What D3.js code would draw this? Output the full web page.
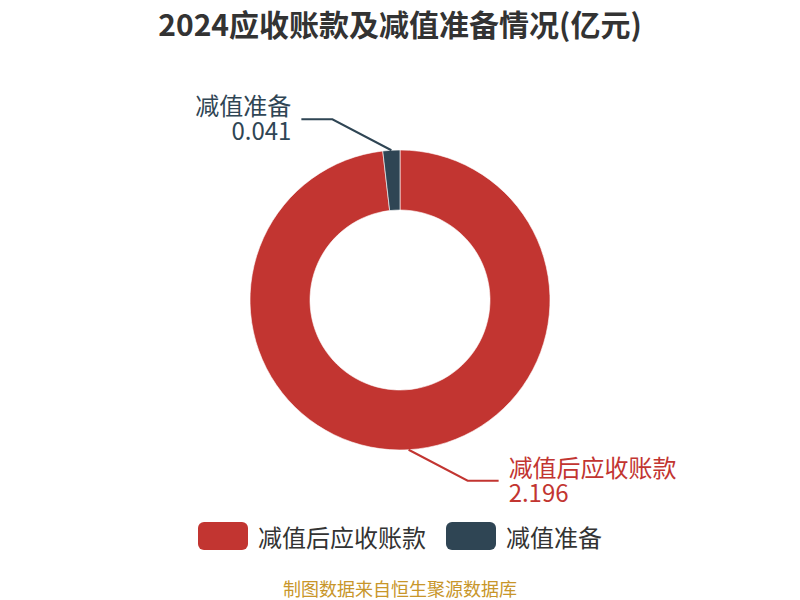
<!DOCTYPE html>
<html><head><meta charset="utf-8">
<script src="https://cdn.jsdelivr.net/npm/d3@7"></script>
<style>html,body{margin:0;padding:0;background:#fff;}svg{display:block;font-family:"Noto Sans CJK SC","Noto Sans",sans-serif;}</style>
</head><body>
<svg id="chart" width="800" height="600"></svg>
<script>
const titleText = "2024应收账款及减值准备情况(亿元)";
const categories = ["减值后应收账款", "减值准备"];
const values = [2.196, 0.041];
const valueLabels = ["2.196", "0.041"];
const colors = ["#c23531", "#2f4554"];
const sourceText = "制图数据来自恒生聚源数据库";

const W = 800, H = 600, cx = 400, cy = 300, rOuter = 150, rInner = 90;
const svg = d3.select("#chart");

svg.append("text").attr("x", W/2).attr("y", 23).attr("text-anchor","middle")
  .attr("dominant-baseline","central").attr("font-size", 30).attr("font-weight","bold")
  .attr("fill","#333").text(titleText);

const data = categories.map((c,i)=>({name:c, value:values[i], label:valueLabels[i], color:colors[i]}));
const pie = d3.pie().value(d=>d.value).sort(null);
const arcs = pie(data);
const arc = d3.arc().innerRadius(rInner).outerRadius(rOuter);

const g = svg.append("g").attr("transform",`translate(${cx},${cy})`);
g.selectAll("path").data(arcs).join("path")
  .attr("d", arc).attr("fill", d=>d.data.color)
  .attr("stroke","#fff").attr("stroke-width",1).attr("stroke-opacity",0.6);

// labels
arcs.forEach(a=>{
  const mid = (a.startAngle + a.endAngle)/2;
  const sx = Math.sin(mid), sy = -Math.cos(mid);
  const right = sx >= 0 ? 1 : -1;
  const down = sy >= 0 ? 1 : -1;
  const p1 = [cx + rOuter*sx, cy + rOuter*sy];
  const p2 = [p1[0] + 59*right, p1[1] + 31*down];
  const p3 = [p2[0] + 31*right, p2[1]];
  svg.append("polyline").attr("points",[p1,p2,p3].map(p=>p.join(",")).join(" "))
    .attr("fill","none").attr("stroke",a.data.color).attr("stroke-width",2);
  const tx = p3[0] + 10*right;
  const anchor = right>0 ? "start":"end";
  const t = svg.append("text").attr("text-anchor",anchor)
    .attr("font-size",24).attr("fill",a.data.color);
  t.append("tspan").attr("x",tx).attr("y",p3[1]-4).text(a.data.name);
  t.append("tspan").attr("x",tx).attr("y",p3[1]+21).text(a.data.label);
});

// legend
const legend = svg.append("g");
let lx = 198;
data.forEach(d=>{
  legend.append("rect").attr("x",lx).attr("y",522).attr("width",50).attr("height",28)
    .attr("rx",6).attr("fill",d.color);
  const t = legend.append("text").attr("x",lx+60).attr("y",536).attr("dominant-baseline","central")
    .attr("font-size",24).attr("fill","#333").text(d.name);
  lx += 60 + t.node().getComputedTextLength() + 20;
});

svg.append("text").attr("x",W/2).attr("y",588).attr("text-anchor","middle")
  .attr("dominant-baseline","central").attr("font-size",18).attr("fill","#c8962a").text(sourceText);
</script>
</body></html>
